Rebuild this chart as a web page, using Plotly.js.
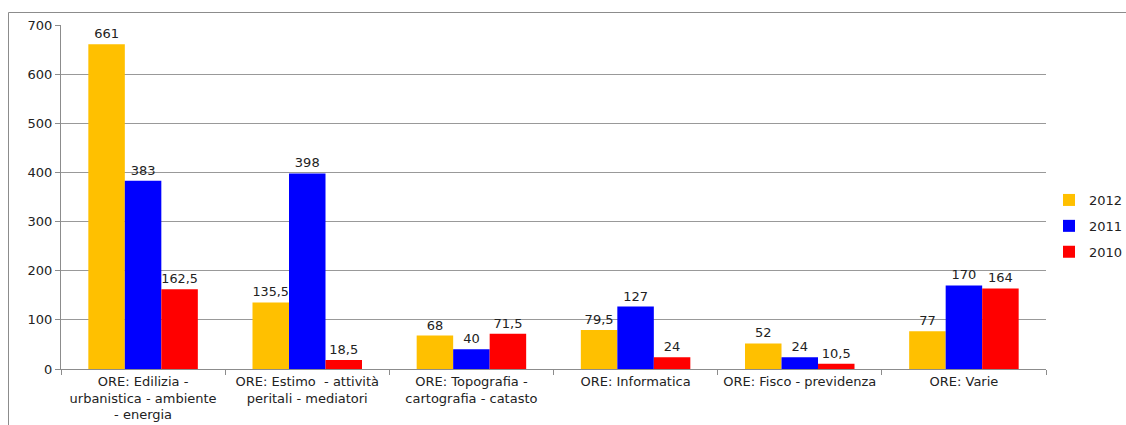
<!DOCTYPE html>
<html>
<head>
<meta charset="utf-8">
<script src="https://cdn.plot.ly/plotly-3.0.1.min.js"></script>
<style>html,body{margin:0;padding:0;background:#fff;}#chart{width:1126px;height:425px;}</style>
</head>
<body>
<div id="chart"></div>
<script>
const categories = [
  "ORE: Edilizia -<br>urbanistica - ambiente<br>- energia",
  "ORE: Estimo  - attività<br>peritali - mediatori",
  "ORE: Topografia -<br>cartografia - catasto",
  "ORE: Informatica",
  "ORE: Fisco - previdenza",
  "ORE: Varie"
];
const seriesNames = ["2012", "2011", "2010"];
const values2012 = [661, 135.5, 68, 79.5, 52, 77];
const values2011 = [383, 398, 40, 127, 24, 170];
const values2010 = [162.5, 18.5, 71.5, 24, 10.5, 164];
const yTicks = [0, 100, 200, 300, 400, 500, 600, 700];

const colors = ["#FFC000", "#0000FF", "#FF0000"];
const allValues = [values2012, values2011, values2010];
const fontFam = "DejaVu Sans, Verdana, sans-serif";
const fs = 13;

const traces = allValues.map((vals, i) => ({
  type: "bar",
  name: seriesNames[i],
  x: categories,
  y: vals,
  text: vals.map(v => String(v).replace(".", ",")),
  textposition: "outside",
  outsidetextfont: {family: fontFam, size: fs, color: "#222"},
  cliponaxis: false,
  marker: {color: colors[i]},
  legendgroup: "g" + i,
  hoverinfo: "none"
}));

// pixel-based layout helpers
const W = 1126, H = 425;
const L = 61, R = 1046, T = 25, B = 369;
const px2x = p => (p - L) / (R - L);
const px2y = p => (B - p) / (B - T);

const layout = {
  width: W, height: H,
  margin: {l: L, r: W - R, t: T, b: H - B, pad: 0, autoexpand: false},
  paper_bgcolor: "#fff",
  plot_bgcolor: "#fff",
  barmode: "group",
  bargap: 0.333,
  bargroupgap: 0,
  separators: ",.",
  font: {family: fontFam, size: fs, color: "#222"},
  showlegend: true,
  legend: {
    x: px2x(1049), y: px2y(185), xanchor: "left", yanchor: "top",
    font: {family: fontFam, size: fs, color: "#222"},
    traceorder: "grouped",
    tracegroupgap: 6,
    itemwidth: 30,
    bgcolor: "rgba(0,0,0,0)"
  },
  xaxis: {
    type: "category",
    showgrid: false,
    showline: true, linecolor: "#8c8c8c", linewidth: 1,
    ticks: "outside", tickson: "boundaries", ticklen: 5, tickcolor: "#8c8c8c",
    tickfont: {family: fontFam, size: fs, color: "#222"},
    automargin: false,
    fixedrange: true
  },
  yaxis: {
    range: [0, 700],
    tickvals: yTicks,
    showgrid: true, gridcolor: "#999", gridwidth: 1,
    showline: true, linecolor: "#8c8c8c", linewidth: 1,
    zeroline: false,
    ticks: "outside", ticklen: 5, tickcolor: "#8c8c8c",
    tickfont: {family: fontFam, size: fs, color: "#222"},
    automargin: false,
    fixedrange: true
  },
  shapes: [
    {type: "line", xref: "paper", yref: "paper", x0: px2x(8.5), x1: px2x(1126), y0: px2y(12.5), y1: px2y(12.5), line: {color: "#8c8c8c", width: 1}},
    {type: "line", xref: "paper", yref: "paper", x0: px2x(8.5), x1: px2x(8.5), y0: px2y(12.5), y1: px2y(425), line: {color: "#8c8c8c", width: 1}}
  ]
};

Plotly.newPlot("chart", traces, layout, {displayModeBar: false, staticPlot: true});
</script>
</body>
</html>
